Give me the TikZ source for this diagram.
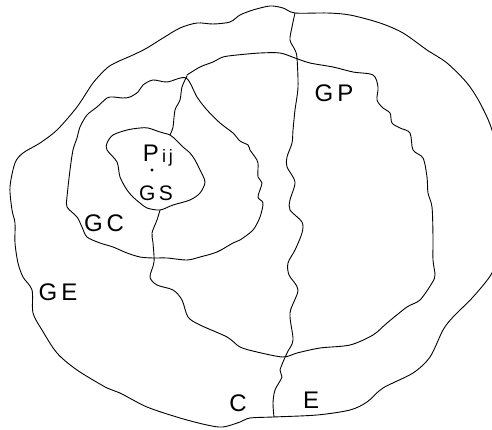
\documentclass[tikz,border=0pt]{standalone}
\usepackage{fontspec}
\setmainfont{Liberation Sans}
\begin{document}
\begin{tikzpicture}[x=1pt,y=-1pt,
  bnd/.style={line width=0.9pt,line join=round,line cap=round},
  lbl/.style={font=\fontsize{24}{26}\selectfont,inner sep=0pt}]
\useasboundingbox (0,0) rectangle (492,430);
\begin{scope}
\clip (0,0) rectangle (492,430);
% outer boundary
\draw[bnd] plot[smooth cycle,tension=0.5] coordinates {
 (295,13) (327,13) (350,15) (380,23) (403,33) (427,50) (447,63) (467,83) (480,103)
 (492,130) (500,170) (503,210) (498,250) (492,273) (473,297) (453,317) (443,330)
 (430,357) (413,373) (383,388) (367,402) (350,410) (317,415) (273,417) (250,418)
 (240,422) (223,427) (207,425) (180,418) (147,407) (120,393) (107,388) (77,370)
 (57,353) (42,330) (33,313) (32,290) (23,277) (18,263) (15,243) (15,223) (12,210)
 (10,187) (15,163) (23,153) (40,143) (57,130) (77,107) (93,83) (107,68) (117,62)
 (133,55) (147,48) (163,38) (180,28) (197,23) (213,24) (230,22) (240,15) (253,10)
 (270,6) (283,8)};
\end{scope}
% C / E divider
\draw[bnd] plot[smooth,tension=0.5] coordinates {
 (295,13) (292,27) (290,40) (295,50) (297,58) (298,87) (295,110) (293,130) (292,143)
 (287,157) (287,167) (295,182) (290,200) (290,210) (302,222) (302,233) (295,250)
 (288,263) (289,275) (298,290) (290,313) (293,340) (287,353) (280,370) (282,377)
 (275,390) (273,403) (274,417)};
% GP region
\draw[bnd] plot[smooth,tension=0.5] coordinates {
 (187,75) (200,67) (213,62) (223,57) (237,55) (260,53) (280,53) (295,58) (310,63)
 (333,67) (353,72) (373,75) (378,87) (377,100) (383,108) (390,113) (392,123)
 (400,128) (410,133) (413,150) (423,158) (427,177) (428,193) (432,207) (433,237)
 (433,260) (435,275) (432,283) (420,300) (407,307) (387,323) (373,335) (350,345)
 (320,348) (297,353) (283,357) (257,352) (240,347) (227,337) (200,325) (188,317)
 (182,300) (173,290) (157,285) (150,277) (154,262) (153,243) (152,233)
 (157,220) (160,210)};
\draw[bnd] plot[smooth,tension=0.5] coordinates {
 (187,76) (182,87) (180,100) (175,110) (173,127) (170,135)};
% GC region
\draw[bnd] plot[smooth cycle,tension=0.5] coordinates {
 (186,78) (197,97) (207,110) (220,123) (233,133) (240,141) (248,145) (250,150)
 (255,157) (258,163) (258,177) (262,183) (258,197) (263,203) (260,217) (253,230)
 (240,240) (233,243) (217,252) (200,257) (187,260) (167,258) (153,258) (140,257)
 (127,253) (113,247) (100,243) (87,237) (82,227) (77,217) (67,207) (67,197) (70,170)
 (73,150) (77,138) (80,127) (87,115) (97,107) (107,98) (113,97) (123,98) (130,97)
 (138,92) (143,85) (153,80) (167,82)};
% GS region
\draw[bnd] plot[smooth cycle,tension=0.5] coordinates {
 (170,135) (160,132) (148,128) (140,128) (127,130) (113,135) (107,143) (107,150)
 (117,162) (120,177) (127,190) (133,197) (140,203) (147,208) (160,210) (173,205)
 (190,200) (200,193) (205,182) (200,170) (195,160) (190,153) (183,147) (176,140)};
% point
\fill (152,170) circle (1.6pt);
% labels
\node[lbl] (pij) at (158,156) {P\raisebox{-1pt}{\fontsize{18}{20}\selectfont\,i\,j}};
\node[lbl,font=\fontsize{21}{23}\selectfont] (gs) at (156,193) {G\,S};
\node[lbl] (gc) at (104,223) {G\,C};
\node[lbl] (ge) at (58,292) {G\,E};
\node[lbl] (gp) at (334,93) {G\,P};
\node[lbl] (c) at (238,403) {C};
\node[lbl] (e) at (311,400) {E};
\end{tikzpicture}
\end{document}
